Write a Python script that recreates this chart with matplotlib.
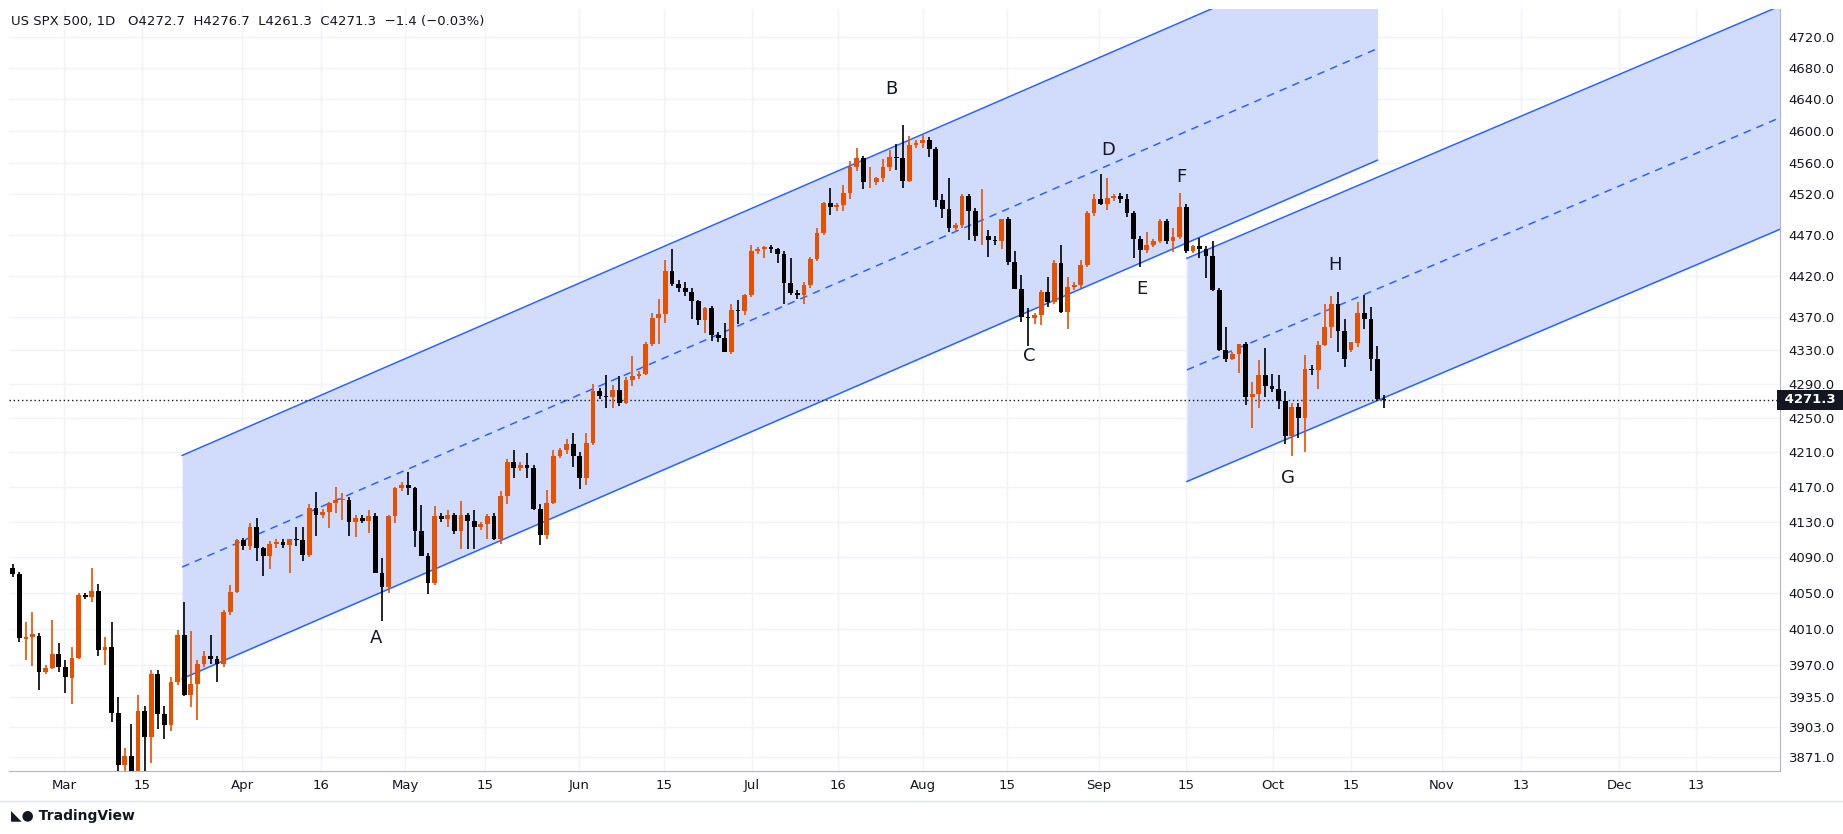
import matplotlib.pyplot as plt
import numpy as np
from matplotlib.ticker import FixedLocator, NullLocator

# daily bars (CFD, Sunday sessions included), Feb 20 .. Oct 20
ohlc = [
    (4078, 4082, 4068, 4071), (4071, 4073, 3995, 4000), (3998, 4017, 3975, 4001), (4001, 4028, 3969, 4004), (4002, 4005, 3943, 3962),
    (3962, 3970, 3960, 3967), (3967, 4019, 3966, 3982), (3982, 3994, 3962, 3968), (3968, 3975, 3939, 3957), (3956, 3990, 3928, 3978), (3978, 4050, 3976, 4047),
    (4047, 4050, 4043, 4045), (4045, 4078, 4040, 4052), (4052, 4060, 3980, 3986), (3986, 4001, 3970, 3990), (3990, 4017, 3908, 3918), (3918, 3935, 3847, 3862),
    (3862, 3880, 3850, 3872), (3872, 3906, 3808, 3855), (3855, 3937, 3850, 3920), (3920, 3925, 3839, 3892), (3892, 3964, 3864, 3960), (3960, 3965, 3901, 3917),
    (3917, 3925, 3890, 3905), (3905, 3957, 3898, 3951), (3951, 4009, 3948, 4003), (4003, 4039, 3936, 3937), (3937, 4007, 3924, 3949), (3949, 3975, 3910, 3971),
    (3971, 3985, 3968, 3980), (3980, 4003, 3971, 3977), (3977, 3980, 3951, 3971), (3971, 4031, 3968, 4028), (4028, 4058, 4025, 4051), (4051, 4110, 4050, 4109),
    (4109, 4112, 4098, 4102), (4102, 4128, 4098, 4124), (4124, 4134, 4086, 4100), (4100, 4101, 4069, 4091), (4091, 4108, 4077, 4105), (4105, 4110, 4100, 4107),
    (4107, 4110, 4100, 4104), (4104, 4110, 4072, 4110), (4110, 4124, 4102, 4109), (4109, 4124, 4086, 4092), (4092, 4150, 4090, 4146), (4146, 4164, 4114, 4138),
    (4138, 4145, 4134, 4141), (4141, 4152, 4123, 4151), (4151, 4170, 4140, 4155), (4155, 4163, 4132, 4155), (4155, 4158, 4114, 4130), (4130, 4138, 4113, 4134),
    (4134, 4138, 4128, 4131), (4131, 4143, 4117, 4137), (4137, 4140, 4072, 4072), (4072, 4089, 4018, 4056), (4056, 4138, 4050, 4136), (4136, 4170, 4128, 4169),
    (4169, 4175, 4165, 4172), (4172, 4187, 4160, 4168), (4168, 4170, 4101, 4119), (4119, 4149, 4091, 4091), (4091, 4095, 4048, 4061), (4061, 4148, 4058, 4136),
    (4136, 4140, 4130, 4133), (4133, 4143, 4124, 4138), (4138, 4140, 4116, 4119), (4119, 4154, 4099, 4138), (4138, 4140, 4099, 4131), (4131, 4143, 4099, 4124),
    (4124, 4130, 4120, 4127), (4127, 4139, 4110, 4136), (4136, 4140, 4109, 4110), (4110, 4165, 4105, 4159), (4159, 4202, 4150, 4198), (4198, 4213, 4180, 4192),
    (4192, 4198, 4188, 4195), (4195, 4209, 4180, 4192), (4192, 4195, 4143, 4145), (4145, 4150, 4103, 4115), (4115, 4166, 4110, 4151), (4151, 4213, 4150, 4205),
    (4205, 4215, 4203, 4212), (4212, 4225, 4208, 4220), (4220, 4232, 4193, 4206), (4206, 4210, 4167, 4180), (4180, 4232, 4172, 4221), (4221, 4290, 4218, 4282),
    (4282, 4285, 4272, 4276), (4276, 4300, 4262, 4274), (4274, 4289, 4261, 4283), (4283, 4299, 4264, 4268), (4268, 4298, 4266, 4294), (4294, 4323, 4288, 4299),
    (4299, 4305, 4296, 4302), (4302, 4340, 4300, 4338), (4338, 4375, 4335, 4369), (4369, 4391, 4337, 4373), (4373, 4439, 4363, 4426), (4426, 4452, 4407, 4410),
    (4410, 4415, 4400, 4405), (4405, 4412, 4395, 4400), (4400, 4405, 4367, 4389), (4389, 4390, 4360, 4366), (4366, 4382, 4351, 4381), (4381, 4383, 4341, 4348),
    (4348, 4352, 4340, 4345), (4345, 4363, 4328, 4328), (4328, 4385, 4325, 4378), (4378, 4390, 4362, 4377), (4377, 4398, 4372, 4396), (4396, 4458, 4394, 4450),
    (4450, 4455, 4446, 4452), (4452, 4456, 4442, 4455), (4455, 4458, 4448, 4452), (4452, 4454, 4436, 4447), (4447, 4450, 4385, 4411), (4411, 4442, 4397, 4399),
    (4399, 4402, 4392, 4396), (4396, 4412, 4385, 4409), (4409, 4443, 4405, 4440), (4440, 4478, 4438, 4472), (4472, 4511, 4470, 4510), (4510, 4528, 4494, 4505),
    (4505, 4510, 4500, 4507), (4507, 4532, 4500, 4522), (4522, 4562, 4514, 4555), (4555, 4578, 4550, 4566), (4566, 4568, 4527, 4535), (4535, 4555, 4528, 4536),
    (4536, 4542, 4532, 4540), (4540, 4564, 4535, 4554), (4554, 4576, 4550, 4567), (4567, 4583, 4551, 4566), (4566, 4607, 4528, 4537), (4537, 4594, 4535, 4582),
    (4582, 4588, 4578, 4585), (4585, 4595, 4578, 4589), (4589, 4592, 4567, 4577), (4577, 4580, 4505, 4513), (4513, 4520, 4491, 4502), (4502, 4540, 4474, 4478),
    (4478, 4485, 4474, 4482), (4482, 4520, 4478, 4518), (4518, 4520, 4464, 4499), (4499, 4503, 4462, 4468), (4468, 4527, 4458, 4469), (4469, 4476, 4443, 4464),
    (4464, 4468, 4458, 4462), (4462, 4490, 4453, 4490), (4490, 4492, 4433, 4437), (4437, 4450, 4404, 4404), (4404, 4421, 4364, 4370), (4370, 4381, 4335, 4369),
    (4369, 4375, 4362, 4372), (4372, 4402, 4360, 4400), (4400, 4418, 4382, 4388), (4388, 4439, 4385, 4436), (4436, 4458, 4375, 4376), (4376, 4418, 4356, 4406),
    (4406, 4412, 4402, 4408), (4408, 4439, 4405, 4433), (4433, 4500, 4431, 4497), (4497, 4521, 4493, 4515), (4515, 4545, 4507, 4508), (4508, 4541, 4501, 4516),
    (4516, 4520, 4512, 4518), (4518, 4522, 4510, 4515), (4515, 4520, 4492, 4497), (4497, 4500, 4442, 4465), (4465, 4468, 4431, 4451), (4451, 4473, 4448, 4457),
    (4457, 4465, 4455, 4462), (4462, 4490, 4460, 4487), (4487, 4490, 4459, 4462), (4462, 4479, 4449, 4467), (4467, 4522, 4465, 4505), (4505, 4508, 4448, 4450),
    (4450, 4458, 4448, 4456), (4456, 4466, 4442, 4453), (4453, 4456, 4417, 4444), (4444, 4462, 4401, 4402), (4402, 4405, 4329, 4330), (4330, 4358, 4316, 4320),
    (4320, 4328, 4318, 4325), (4325, 4338, 4303, 4337), (4337, 4340, 4265, 4274), (4274, 4292, 4238, 4278), (4278, 4318, 4261, 4300), (4300, 4333, 4275, 4288),
    (4288, 4302, 4280, 4284), (4284, 4300, 4260, 4270), (4270, 4281, 4220, 4229), (4229, 4268, 4205, 4263), (4263, 4268, 4226, 4250), (4250, 4324, 4210, 4308),
    (4308, 4312, 4300, 4306), (4306, 4341, 4284, 4336), (4336, 4386, 4335, 4358), (4358, 4395, 4345, 4385), (4385, 4400, 4328, 4353), (4353, 4368, 4310, 4320),
    (4330, 4340, 4328, 4340), (4339, 4388, 4334, 4375), (4375, 4397, 4355, 4367), (4367, 4382, 4305, 4319), (4320, 4335, 4270, 4272.7), (4272.7, 4276.7, 4261.3, 4271.3),
]

y_ticks = [3871, 3903, 3935, 3970, 4010, 4050, 4090, 4130, 4170, 4210, 4250, 4290,
           4330, 4370, 4420, 4470, 4520, 4560, 4600, 4640, 4680, 4720]
x_tick_pos = [7.8, 19.6, 34.8, 46.7, 59.5, 71.7, 85.9, 98.8, 112.1, 125.1, 138.1, 150.8,
              164.7, 177.9, 191.1, 203.0, 216.8, 228.7, 243.7, 255.3]
x_tick_labels = ["Mar", "15", "Apr", "16", "May", "15", "Jun", "15", "Jul", "16", "Aug", "15",
                 "Sep", "15", "Oct", "15", "Nov", "13", "Dec", "13"]

# regression channels: (start idx, end idx, lower price at start, lower price at end)
channels = [(25.7, 207.0, 3955, 4563), (178.1, 268.1, 4176, 4477)]
channel_ratio = 1.0635

points = ["A", "B", "C", "D", "E", "F", "G", "H"]
point_idx = [55.1, 133.2, 154.2, 166.1, 171.3, 177.2, 193.4, 200.5]
point_price = [4000, 4654, 4323, 4576, 4404, 4542, 4180, 4433]

last_close = 4271.3

UP = "#e65100"
DOWN = "#000000"
LINE = "#2962ff"
FILL = "#d1dcfd"

o, h, l, c = (np.array(v, dtype=float) for v in zip(*ohlc))
x = np.arange(len(o))

fig = plt.figure(figsize=(18.43, 8.34), dpi=100)
ax = fig.add_axes([0.005, 0.076, 0.961, 0.913])
ax.set_yscale("log")
ax.set_xlim(-0.53, 268.1)
ax.set_ylim(3856, 4757)

for x0, x1, p0, p1 in channels:
    xs = np.array([x0, x1])
    lo = np.array([p0, p1])
    ax.fill_between(xs, lo, lo * channel_ratio, color=FILL, lw=0, zorder=1)
    ax.plot(xs, lo, color=LINE, lw=1.1, zorder=2)
    ax.plot(xs, lo * channel_ratio, color=LINE, lw=1.1, zorder=2)
    ax.plot(xs, lo * np.sqrt(channel_ratio), color=LINE, lw=1.1, ls=(0, (5, 4)), zorder=2)

up = c >= o
col = np.where(up, UP, DOWN)
ax.vlines(x, l, h, colors=col, lw=1.2, zorder=3)
bottom = np.minimum(o, c)
height = np.maximum(np.abs(c - o), 1.0)
ax.bar(x, height, bottom=bottom, width=0.72, color=col, lw=0, zorder=4)

ax.axhline(last_close, color="#131722", lw=1, ls=(0, (1, 2)), zorder=2)

for name, xi, pi in zip(points, point_idx, point_price):
    ax.text(xi, pi, name, fontsize=13, ha="center", va="center", color="#131722", zorder=5)

ax.yaxis.tick_right()
ax.yaxis.set_major_locator(FixedLocator(y_ticks))
ax.yaxis.set_minor_locator(NullLocator())
ax.set_yticklabels([f"{v:.1f}" for v in y_ticks])
ax.set_xticks(x_tick_pos)
ax.set_xticklabels(x_tick_labels)
ax.tick_params(axis="both", length=0, labelsize=9.5, colors="#131722", pad=6)
ax.grid(True, color="#f0f3fa", lw=1, zorder=0)
ax.set_axisbelow(True)
for side in ["top", "left"]:
    ax.spines[side].set_visible(False)
ax.spines["right"].set_color("#b2b5be")
ax.spines["bottom"].set_color("#b2b5be")

ax.text(1.0, last_close, f" {last_close:.1f} ", transform=ax.get_yaxis_transform(),
        ha="left", va="center", fontsize=9.5, color="white", fontweight="bold",
        bbox=dict(boxstyle="square,pad=0.25", fc="#131722", ec="none"), zorder=6)

fig.text(0.006, 0.974, "US SPX 500, 1D   O4272.7  H4276.7  L4261.3  C4271.3  \u22121.4 (\u22120.03%)",
         fontsize=9.5, color="#131722", va="center")
fig.add_artist(plt.Line2D([0, 1], [0.04, 0.04], color="#e0e3eb", lw=1))
fig.text(0.006, 0.022, "\u25e3\u25cf TradingView", fontsize=10, color="#131722", va="center", fontweight="bold")

fig.savefig("out.png", dpi=100)
